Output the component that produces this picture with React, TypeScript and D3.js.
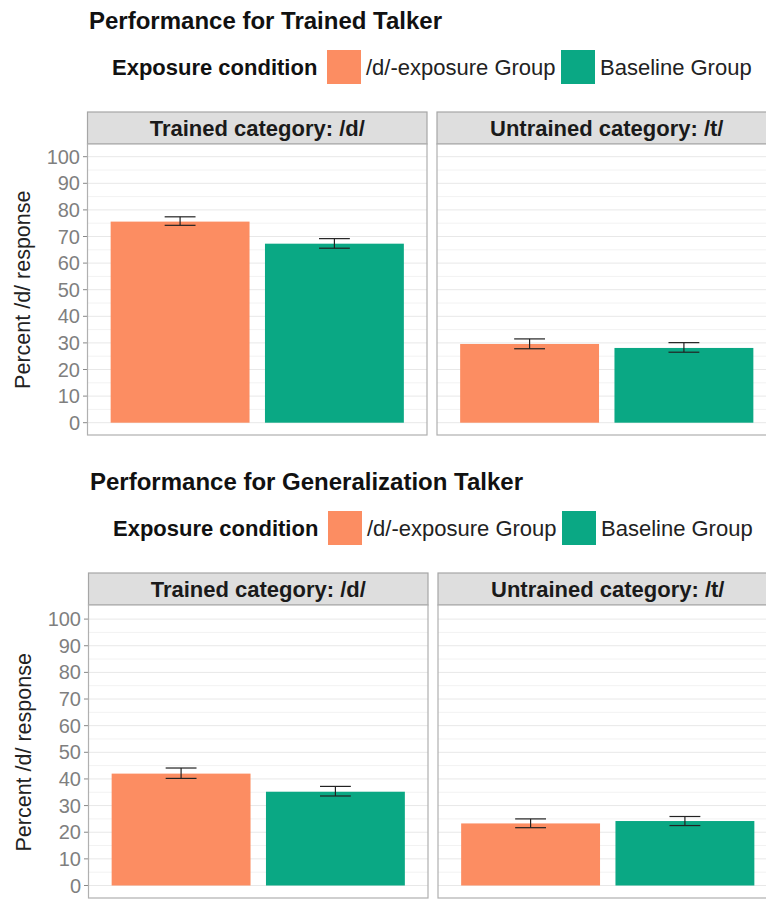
import React from "react";
import * as d3 from "d3";

const facets = ["Trained category: /d/", "Untrained category: /t/"];
const groups = ["/d/-exposure Group", "Baseline Group"];
const groupColors = ["#FC8D62", "#0AA884"];
const yTicks = [0, 10, 20, 30, 40, 50, 60, 70, 80, 90, 100];
const yMinor = [5, 15, 25, 35, 45, 55, 65, 75, 85, 95];

// Trained talker: [facet][group]
const trainedMean = [[75.6, 67.3], [29.6, 28.1]];
const trainedLo = [[74.2, 65.6], [27.8, 26.5]];
const trainedHi = [[77.4, 69.2], [31.5, 30.1]];

// Generalization talker
const generalMean = [[42.0, 35.2], [23.3, 24.2]];
const generalLo = [[40.2, 33.6], [21.7, 22.5]];
const generalHi = [[44.1, 37.2], [25.0, 25.9]];

const charts = [
  { title: "Performance for Trained Talker", mean: trainedMean, lo: trainedLo, hi: trainedHi, dy: 0, dx: 0, y0: 422.7, y100: 156.7, pb: 435 },
  { title: "Performance for Generalization Talker", mean: generalMean, lo: generalLo, hi: generalHi, dy: 461, dx: 1, y0: 424.5, y100: 158.1, pb: 437 },
];

const FONT = "'Liberation Sans', Arial, Helvetica, sans-serif";

function Chart({ c }: { c: typeof charts[number] }) {
  const stripTop = 112;
  const stripBot = 144;
  const panelBot = c.pb;
  const panels = [
    [87.5, 427],
    [437, 776.5],
  ];
  const y = d3.scaleLinear().domain([0, 100]).range([c.y0, c.y100]);
  return (
    <g transform={`translate(${c.dx},${c.dy})`}>
      <text x={89} y={29} fontSize={24} fontWeight="bold" fill="#111" fontFamily={FONT}>
        {c.title}
      </text>
      {/* legend */}
      <text x={112} y={75} fontSize={22} fontWeight="bold" fill="#111" fontFamily={FONT}>
        Exposure condition
      </text>
      {groups.map((g, i) => {
        const sx = [327, 561][i];
        return (
          <g key={g}>
            <rect x={sx} y={50} width={34} height={34} fill={groupColors[i]} />
            <text x={sx + 39} y={75} fontSize={22} fill="#222" fontFamily={FONT}>
              {g}
            </text>
          </g>
        );
      })}
      <text
        transform={`translate(30,${(c.y0 + c.y100) / 2}) rotate(-90)`}
        textAnchor="middle"
        fontSize={21.5}
        fill="#222"
        fontFamily={FONT}
      >
        Percent /d/ response
      </text>
      {yTicks.map((t) => (
        <g key={t}>
          <line x1={83} x2={87.5} y1={y(t)} y2={y(t)} stroke="#888" strokeWidth={1} />
          <text x={80} y={y(t) + 7} textAnchor="end" fontSize={20} fill="#7f7f7f" fontFamily={FONT}>
            {t}
          </text>
        </g>
      ))}
      {facets.map((f, fi) => {
        const [x0, x1] = panels[fi];
        const x = d3.scaleLinear().domain([0.4, 2.6]).range([x0, x1]);
        const bw = x(0.9) - x(0);
        const ew = x(0.2) - x(0);
        return (
          <g key={f}>
            <rect x={x0} y={stripTop} width={x1 - x0} height={stripBot - stripTop} fill="#dedede" stroke="#a6a6a6" strokeWidth={1.2} />
            <text x={(x0 + x1) / 2} y={stripTop + 24} textAnchor="middle" fontSize={22} fontWeight="bold" fill="#1a1a1a" fontFamily={FONT}>
              {f}
            </text>
            <rect x={x0} y={stripBot} width={x1 - x0} height={panelBot - stripBot} fill="#fff" />
            {yMinor.map((t) => (
              <line key={"m" + t} x1={x0} x2={x1} y1={y(t)} y2={y(t)} stroke="#f2f2f2" strokeWidth={1} />
            ))}
            {yTicks.map((t) => (
              <line key={"M" + t} x1={x0} x2={x1} y1={y(t)} y2={y(t)} stroke="#e8e8e8" strokeWidth={1} />
            ))}
            {groups.map((g, gi) => {
              const cx = x(gi + 1);
              const m = c.mean[fi][gi];
              return (
                <g key={g}>
                  <rect x={cx - bw / 2} y={y(m)} width={bw} height={y(0) - y(m)} fill={groupColors[gi]} />
                  <line x1={cx} x2={cx} y1={y(c.lo[fi][gi])} y2={y(c.hi[fi][gi])} stroke="#222" strokeWidth={1.2} />
                  <line x1={cx - ew / 2} x2={cx + ew / 2} y1={y(c.lo[fi][gi])} y2={y(c.lo[fi][gi])} stroke="#222" strokeWidth={1.2} />
                  <line x1={cx - ew / 2} x2={cx + ew / 2} y1={y(c.hi[fi][gi])} y2={y(c.hi[fi][gi])} stroke="#222" strokeWidth={1.2} />
                </g>
              );
            })}
            <rect x={x0} y={stripBot} width={x1 - x0} height={panelBot - stripBot} fill="none" stroke="#b0b0b0" strokeWidth={1.2} />
          </g>
        );
      })}
    </g>
  );
}

export default function App() {
  return (
    <svg
      width={766}
      height={906}
      style={{ position: "absolute", left: 0, top: 0, background: "#fff", overflow: "hidden" }}
    >
      <rect width={766} height={906} fill="#fff" />
      {charts.map((c) => (
        <Chart key={c.title} c={c} />
      ))}
    </svg>
  );
}
